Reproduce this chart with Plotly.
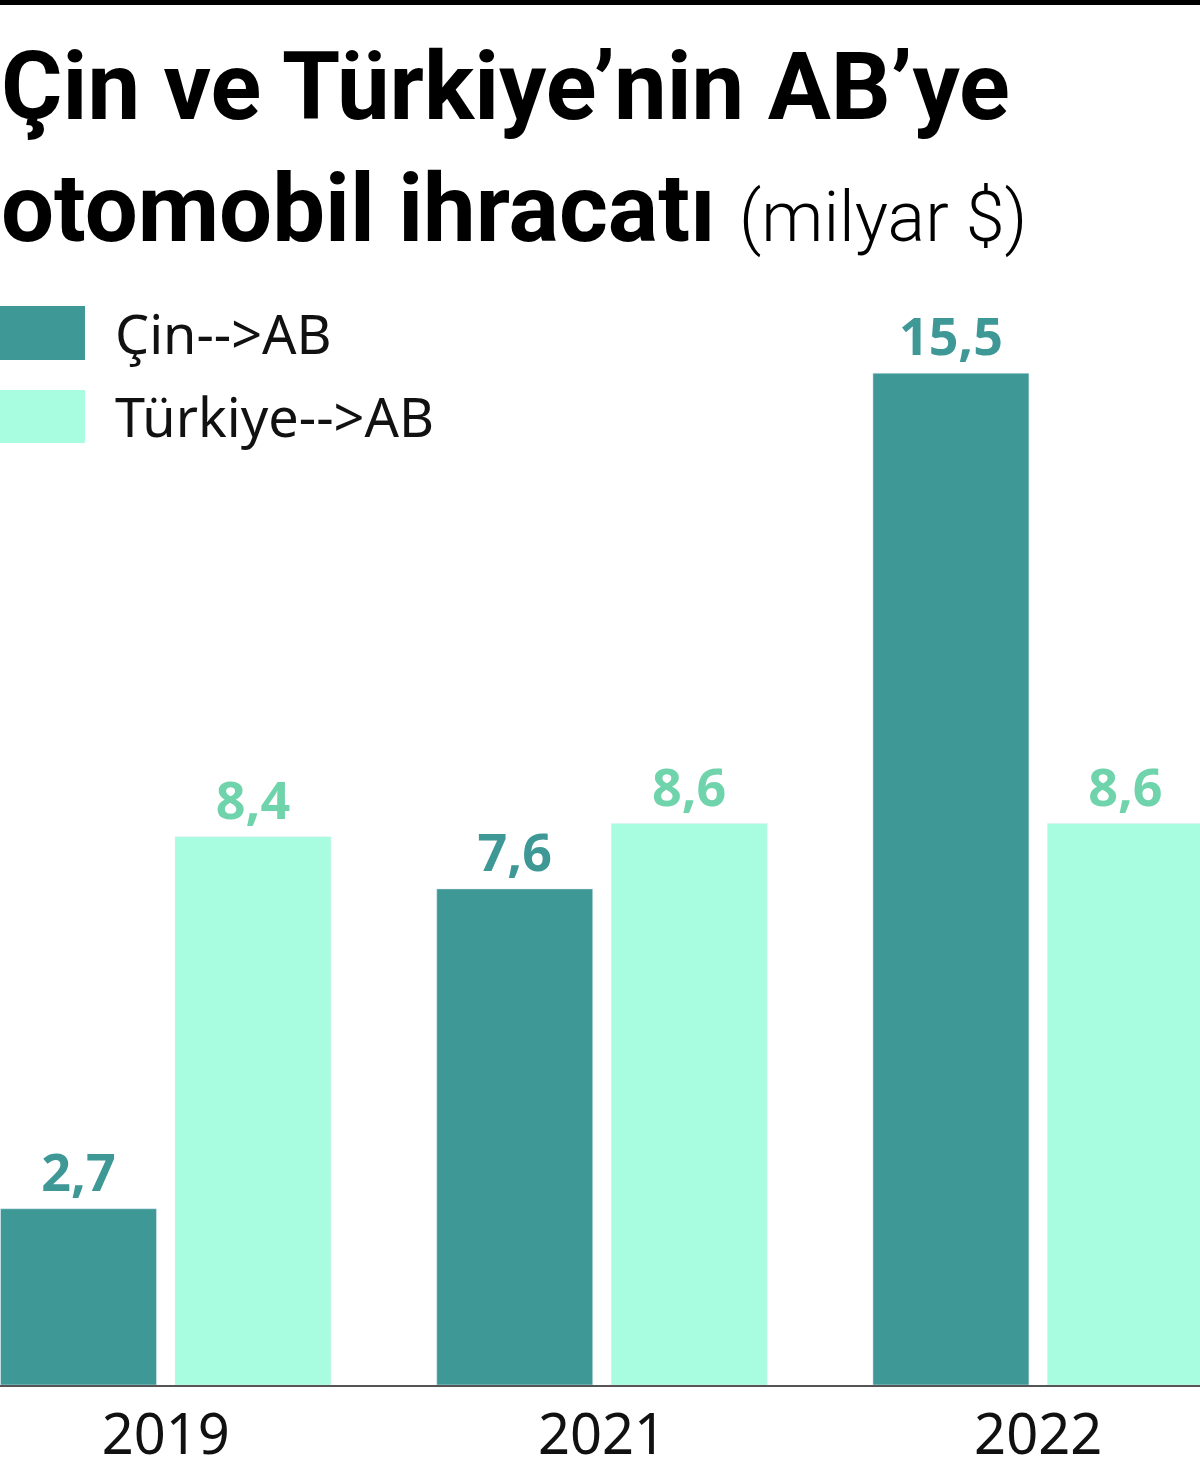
import plotly.graph_objects as go

years = ["2019", "2021", "2022"]
cin_ab = [2.7, 7.6, 15.5]
turkiye_ab = [8.4, 8.6, 8.6]
series_names = ["Çin-->AB", "Türkiye-->AB"]
cin_labels = ["2,7", "7,6", "15,5"]
tr_labels = ["8,4", "8,6", "8,6"]

DARK = "#3e9896"
LIGHT = "#a8fcdf"
DARK_TXT = "#3e9896"
LIGHT_TXT = "#6fd3ac"

W, H = 1200, 1475
T, B = 210, 90
PH = H - T - B

def py(p):
    return (H - B - p) / PH

fig = go.Figure()
fig.add_trace(go.Bar(x=years, y=cin_ab, name=series_names[0], marker_color=DARK,
                     text=cin_labels, textposition="outside", cliponaxis=False,
                     textfont=dict(family="Open Sans", size=52, color=DARK_TXT, weight="bold")))
fig.add_trace(go.Bar(x=years, y=turkiye_ab, name=series_names[1], marker_color=LIGHT,
                     text=tr_labels, textposition="outside", cliponaxis=False,
                     textfont=dict(family="Open Sans", size=52, color=LIGHT_TXT, weight="bold")))

fig.update_layout(
    width=W, height=H,
    margin=dict(l=0, r=0, t=T, b=B, pad=0),
    paper_bgcolor="white", plot_bgcolor="white",
    barmode="group", bargap=0.2, bargroupgap=0.106,
    showlegend=False,
    xaxis=dict(type="category", range=[-0.38, 2.371], showgrid=False, zeroline=False,
               showline=True, linecolor="#555555", linewidth=2, ticks="",
               tickfont=dict(family="Noto Sans", size=56, color="#111111")),
    yaxis=dict(range=[0, 18], visible=False, showgrid=False, zeroline=False),
)

shapes = [
    dict(type="rect", xref="paper", yref="paper", x0=0, x1=1, y0=py(5), y1=py(-5),
         fillcolor="black", line_width=0, layer="above"),
    dict(type="rect", xref="paper", yref="paper", x0=0, x1=85 / W, y0=py(360), y1=py(306),
         fillcolor=DARK, line_width=0),
    dict(type="rect", xref="paper", yref="paper", x0=0, x1=85 / W, y0=py(443), y1=py(390),
         fillcolor=LIGHT, line_width=0),
]
fig.update_layout(shapes=shapes)

TITLE_FONT = "Roboto, sans-serif"
ann = [
    dict(text="<b>Çin ve Türkiye’nin AB’ye</b>", x=0, y=py(87), xref="paper", yref="paper",
         xanchor="left", yanchor="middle", showarrow=False, borderpad=0,
         font=dict(family=TITLE_FONT, size=94, color="black")),
    dict(text="<b>otomobil ihracatı</b> <span style='font-size:70px;font-weight:300'>(milyar $)</span>",
         x=0, y=py(209), xref="paper", yref="paper",
         xanchor="left", yanchor="middle", showarrow=False, borderpad=0,
         font=dict(family=TITLE_FONT, size=94, color="black")),
    dict(text=series_names[0], x=113 / W, y=py(333), xref="paper", yref="paper",
         xanchor="left", yanchor="middle", showarrow=False,
         font=dict(family="Noto Sans", size=54, color="#111111")),
    dict(text=series_names[1], x=113 / W, y=py(416), xref="paper", yref="paper",
         xanchor="left", yanchor="middle", showarrow=False,
         font=dict(family="Noto Sans", size=54, color="#111111")),
]
fig.update_layout(annotations=ann)

fig.write_html("out.html")
